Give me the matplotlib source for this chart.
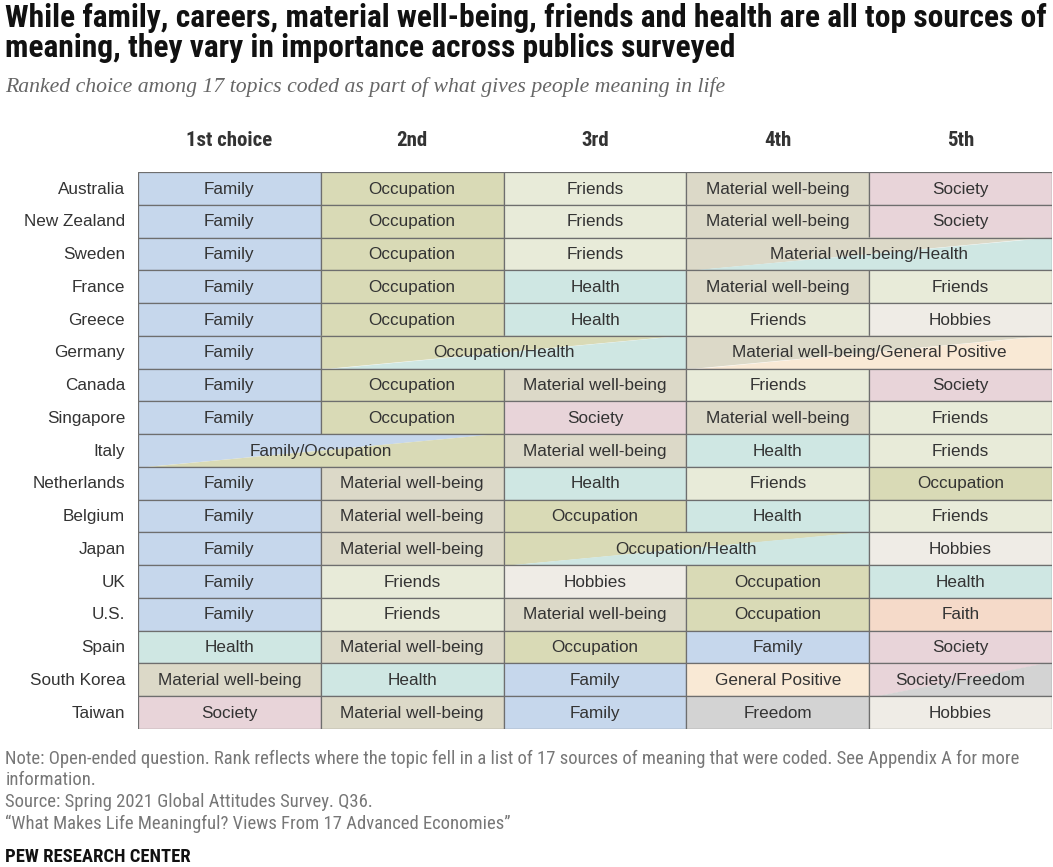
import matplotlib
matplotlib.use("Agg")
import matplotlib.pyplot as plt
from matplotlib import font_manager
from matplotlib.patches import Rectangle, Polygon

countries = ["Australia", "New Zealand", "Sweden", "France", "Greece", "Germany",
             "Canada", "Singapore", "Italy", "Netherlands", "Belgium", "Japan",
             "UK", "U.S.", "Spain", "South Korea", "Taiwan"]
ranks = ["1st choice", "2nd", "3rd", "4th", "5th"]

# tied topics share one label over consecutive ranks
choices = [
    ["Family", "Occupation", "Friends", "Material well-being", "Society"],
    ["Family", "Occupation", "Friends", "Material well-being", "Society"],
    ["Family", "Occupation", "Friends", "Material well-being/Health", "Material well-being/Health"],
    ["Family", "Occupation", "Health", "Material well-being", "Friends"],
    ["Family", "Occupation", "Health", "Friends", "Hobbies"],
    ["Family", "Occupation/Health", "Occupation/Health",
     "Material well-being/General Positive", "Material well-being/General Positive"],
    ["Family", "Occupation", "Material well-being", "Friends", "Society"],
    ["Family", "Occupation", "Society", "Material well-being", "Friends"],
    ["Family/Occupation", "Family/Occupation", "Material well-being", "Health", "Friends"],
    ["Family", "Material well-being", "Health", "Friends", "Occupation"],
    ["Family", "Material well-being", "Occupation", "Health", "Friends"],
    ["Family", "Material well-being", "Occupation/Health", "Occupation/Health", "Hobbies"],
    ["Family", "Friends", "Hobbies", "Occupation", "Health"],
    ["Family", "Friends", "Material well-being", "Occupation", "Faith"],
    ["Health", "Material well-being", "Occupation", "Family", "Society"],
    ["Material well-being", "Health", "Family", "General Positive", "Society/Freedom"],
    ["Society", "Material well-being", "Family", "Freedom", "Hobbies"],
]

topic_colors = {
    "Family": "#c6d7ec",
    "Occupation": "#d9dab6",
    "Friends": "#e8ebd9",
    "Health": "#cfe7e3",
    "Material well-being": "#dcd9c8",
    "Society": "#e8d4d9",
    "Hobbies": "#efece6",
    "General Positive": "#f9e9d5",
    "Faith": "#f5dac9",
    "Freedom": "#d3d3d3",
}

# look for a condensed face, else fall back on Liberation Sans
narrow = None
for f in font_manager.fontManager.ttflist:
    if f.name in ("Liberation Sans Narrow", "Roboto Condensed", "Open Sans Condensed",
                  "Noto Sans Condensed", "DejaVu Sans Condensed"):
        narrow = ([f.name, "DejaVu Sans"], "normal")
        break
if narrow is None:
    for f in font_manager.fontManager.ttflist:
        if f.name in ("DejaVu Sans", "Noto Sans") and f.stretch == "condensed":
            narrow = ([f.name, "DejaVu Sans"], "condensed")
            break
if narrow is None:
    narrow = (["Liberation Sans", "DejaVu Sans"], "normal")
nfam, nstretch = narrow
sans = ["Liberation Sans", "DejaVu Sans"]

fig = plt.figure(figsize=(10.53, 8.67), dpi=100)
renderer = fig.canvas.get_renderer()


def fit(t, width_px):
    # scale the font so the text spans the width seen in the reference
    w = t.get_window_extent(renderer).width
    t.set_fontsize(t.get_fontsize() * width_px / w)


t = fig.text(0.005, 1 - 18 / 867, "While family, careers, material well-being, friends and health are all top sources of",
             fontsize=16, fontweight="bold", family=nfam, fontstretch=nstretch, va="center", ha="left", color="#111")
fit(t, 1040)
size_title = t.get_fontsize()
fig.text(0.005, 1 - 48 / 867, "meaning, they vary in importance across publics surveyed",
         fontsize=size_title, fontweight="bold", family=nfam, fontstretch=nstretch, va="center",
         ha="left", color="#111")
t = fig.text(0.005, 1 - 87 / 867, "Ranked choice among 17 topics coded as part of what gives people meaning in life",
             fontsize=14, style="italic", family=["Liberation Serif", "DejaVu Serif"], va="center",
             ha="left", color="#666")
fit(t, 722)

ax = fig.add_axes([138 / 1053, 1 - 729 / 867, (1052 - 138) / 1053, (729 - 172) / 867])
ax.set_xlim(0, 5)
ax.set_ylim(len(countries), 0)
ax.axis("off")

edge = "#6e6e6e"
for r, row in enumerate(choices):
    c = 0
    while c < 5:
        label = row[c]
        span = 1
        while c + span < 5 and row[c + span] == label:
            span += 1
        x0, x1 = c, c + span
        if "/" in label:
            a, b = label.split("/")
            lo, hi = x0 + 0.05, x1 - 0.03
            ax.add_patch(Polygon([(x0, r), (hi, r), (lo, r + 1), (x0, r + 1)],
                                 closed=True, facecolor=topic_colors[a], edgecolor="none"))
            ax.add_patch(Polygon([(hi, r), (x1, r), (x1, r + 1), (lo, r + 1)],
                                 closed=True, facecolor=topic_colors[b], edgecolor="none"))
            ax.add_patch(Rectangle((x0, r), span, 1, facecolor="none", edgecolor=edge, lw=0.9))
        else:
            ax.add_patch(Rectangle((x0, r), span, 1, facecolor=topic_colors[label],
                                   edgecolor=edge, lw=0.9))
        ax.text((x0 + x1) / 2, r + 0.52, label, ha="center", va="center", fontsize=12.3,
                color="#333", family=sans)
        c += span

for r, name in enumerate(countries):
    ax.text(-0.07, r + 0.52, name, ha="right", va="center", fontsize=12.3, color="#333",
            family=sans, clip_on=False)

for c, name in enumerate(ranks):
    ax.text(c + 0.5, -0.95, name, ha="center", va="center", fontsize=15, fontweight="bold",
            color="#333", family=nfam, fontstretch=nstretch, clip_on=False)

notes = [
    ("Note: Open-ended question. Rank reflects where the topic fell in a list of 17 sources of meaning that were coded. See Appendix A for more", 759),
    ("information.", 780),
    ("Source: Spring 2021 Global Attitudes Survey. Q36.", 802),
    ("\u201cWhat Makes Life Meaningful? Views From 17 Advanced Economies\u201d", 824),
]
t = fig.text(0.005, 1 - notes[0][1] / 867, notes[0][0], fontsize=10.5, color="#777", family=nfam,
             fontstretch=nstretch, va="center", ha="left")
fit(t, 1020)
size_note = t.get_fontsize()
for txt, y in notes[1:]:
    fig.text(0.005, 1 - y / 867, txt, fontsize=size_note, color="#777", family=nfam,
             fontstretch=nstretch, va="center", ha="left")
fig.text(0.005, 1 - 857 / 867, "PEW RESEARCH CENTER", fontsize=size_note, fontweight="bold", color="#111",
         family=nfam, fontstretch=nstretch, va="center", ha="left")

fig.savefig("out.png", dpi=100, facecolor="white")
